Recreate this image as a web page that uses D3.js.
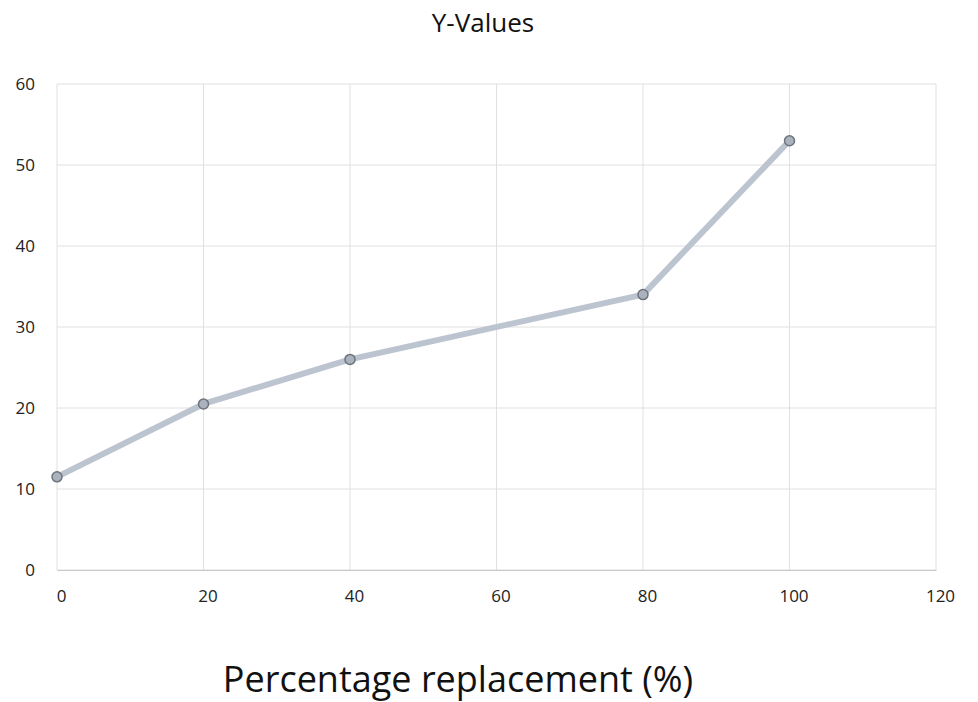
<!DOCTYPE html>
<html><head><meta charset="utf-8">
<script src="https://cdn.jsdelivr.net/npm/d3@7"></script>
<style>body{margin:0;background:#fff}</style>
</head><body>
<svg id="chart" width="978" height="702"></svg>
<script>
const xValues = [0, 20, 40, 80, 100];
const yValues = [11.5, 20.5, 26, 34, 53];
const xTicks = [0, 20, 40, 60, 80, 100, 120];
const yTicks = [0, 10, 20, 30, 40, 50, 60];
const chartTitle = "Y-Values";
const xTitle = "Percentage replacement (%)";

const svg = d3.select("#chart");
const font = "'Open Sans', 'Noto Sans', sans-serif";
const x = d3.scaleLinear().domain([0, 120]).range([57, 936]);
const y = d3.scaleLinear().domain([0, 60]).range([570, 84]);

// gridlines
svg.append("g").selectAll("line").data(yTicks).join("line")
  .attr("x1", x(0)).attr("x2", x(120))
  .attr("y1", d => y(d)).attr("y2", d => y(d))
  .attr("stroke", "#e0e0e0").attr("stroke-width", 1);
svg.append("g").selectAll("line").data(xTicks).join("line")
  .attr("y1", y(0)).attr("y2", y(60))
  .attr("x1", d => x(d)).attr("x2", d => x(d))
  .attr("stroke", "#e0e0e0").attr("stroke-width", 1);

// axes (labels only)
const xAxis = svg.append("g").attr("transform", `translate(0,${y(0)})`)
  .call(d3.axisBottom(x).tickValues(xTicks).tickSize(0).tickPadding(20));
xAxis.select(".domain").attr("stroke", "#c8c8c8");
xAxis.selectAll("text").attr("font-family", font).attr("font-size", 17).attr("fill", "#222")
  .attr("dx", 4);

const yAxis = svg.append("g").attr("transform", `translate(${x(0)},0)`)
  .call(d3.axisLeft(y).tickValues(yTicks).tickSize(0).tickPadding(22));
yAxis.select(".domain").remove();
yAxis.selectAll("text").attr("font-family", font).attr("font-size", 17).attr("fill", "#222");

// line
const pts = xValues.map((v, i) => [v, yValues[i]]);
svg.append("path").datum(pts)
  .attr("d", d3.line().x(d => x(d[0])).y(d => y(d[1])))
  .attr("fill", "none").attr("stroke", "#bcc4d0").attr("stroke-width", 6)
  .attr("stroke-linejoin", "round").attr("stroke-linecap", "round");

svg.append("g").selectAll("circle").data(pts).join("circle")
  .attr("cx", d => x(d[0])).attr("cy", d => y(d[1])).attr("r", 5)
  .attr("fill", "#aab2bd").attr("stroke", "#6e747c").attr("stroke-width", 1.5);

// titles
svg.append("text").attr("x", 483).attr("y", 32).attr("text-anchor", "middle")
  .attr("font-family", font).attr("font-size", 26).attr("fill", "#111").text(chartTitle);
svg.append("text").attr("x", 458).attr("y", 692).attr("text-anchor", "middle")
  .attr("font-family", font).attr("font-size", 36).attr("fill", "#111").text(xTitle);
</script>
</body></html>
